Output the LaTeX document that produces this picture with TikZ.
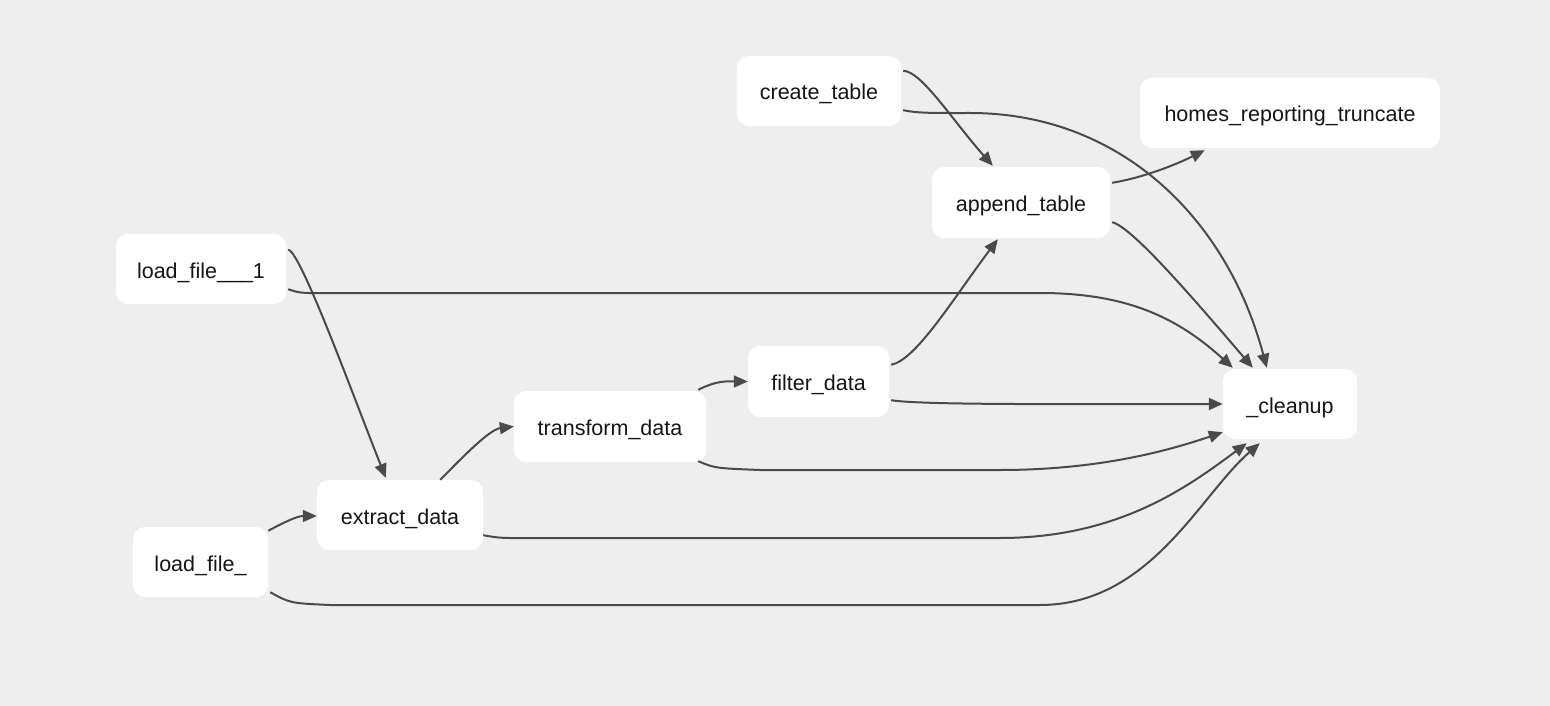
\documentclass[tikz,border=0pt]{standalone}
\usepackage{fontspec}
\setmainfont{Liberation Sans}
\usetikzlibrary{arrows.meta}
\definecolor{bg}{HTML}{EEEEEE}
\definecolor{edge}{HTML}{4A4A4A}
\definecolor{txt}{HTML}{151515}
\begin{document}
\begin{tikzpicture}[x=1pt,y=-1pt,
  task/.style={fill=white,draw=none,rounded corners=12pt,inner sep=0pt,text=txt,
    font=\fontsize{21.5}{26}\selectfont,minimum height=70pt,text height=23pt,text depth=5pt},
  conn/.style={draw=edge,line width=2pt,-{Triangle[length=14pt,width=12pt]}}]
\fill[bg] (0,0) rectangle (1550,706);
\useasboundingbox (0,0) rectangle (1550,706);
% nodes
\node[task,minimum width=164pt] (create) at (819,91) {create\_table};
\node[task,minimum width=300pt] (homes) at (1290,113) {homes\_reporting\_truncate};
\node[task,minimum width=178pt,minimum height=71pt] (append) at (1021,202.5) {append\_table};
\node[task,minimum width=170pt] (loadA) at (201,269) {load\_file\_\_\_1};
\node[task,minimum width=141pt,minimum height=71pt] (filter) at (818.5,381.5) {filter\_data};
\node[task,minimum width=134pt] (cleanup) at (1290,404) {\_cleanup};
\node[task,minimum width=192pt,minimum height=71pt] (transform) at (610,426.5) {transform\_data};
\node[task,minimum width=166pt] (extract) at (400,515) {extract\_data};
\node[task,minimum width=135pt] (loadB) at (200.5,562) {load\_file\_};
% edges
\draw[conn] ([shift={(2,15)}]create.north east) .. controls +(18,0) and +(-40,-45) .. ([shift={(61,-1)}]append.north west);
\draw[conn] ([shift={(2,-16)}]create.south east) .. controls +(15,3) and +(-40,0) .. (970,113)
  .. controls +(150,0) and +(-40,-150) .. ([shift={(44,-1)}]cleanup.north west);
\draw[conn] ([shift={(2,16)}]append.north east) .. controls +(30,-5) and +(-30,15) .. ([shift={(65,2)}]homes.south west);
\draw[conn] ([shift={(2,-16)}]append.south east) .. controls +(20,5) and +(-60,-70) .. ([shift={(30,-1)}]cleanup.north west);
\draw[conn] ([shift={(2,16)}]loadA.north east) .. controls +(12,0) and +(-30,-75) .. ([shift={(69,-2)}]extract.north west);
\draw[conn] ([shift={(2,-15)}]loadA.south east) .. controls +(12,4) .. (330,293) -- (1040,293)
  .. controls +(90,0) and +(-53,-48) .. ([shift={(10,-1)}]cleanup.north west);
\draw[conn] ([shift={(2,19)}]filter.north east) .. controls +(25,-5) and +(-45,60) .. ([shift={(66,1)}]append.south west);
\draw[conn] ([shift={(2,-17)}]filter.south east) .. controls +(30,5) and +(-150,0) .. (cleanup.west);
\draw[conn] ([shift={(-8,-1)}]transform.north east) .. controls +(20,-10) and +(-20,0) .. (filter.west);
\draw[conn] ([shift={(-8,-1)}]transform.south east) .. controls +(17,7) .. (760,470) -- (1000,470)
  .. controls +(100,0) and +(-53,18) .. ([shift={(0,-7)}]cleanup.south west);
\draw[conn] ([shift={(-43,0)}]extract.north east) .. controls +(20,-20) and +(-25,3) .. (transform.west);
\draw[conn] ([shift={(0,-15)}]extract.south east) .. controls +(17,3) .. (540,538) -- (1000,538)
  .. controls +(120,0) and +(-57,42) .. ([shift={(24,4)}]cleanup.south west);
\draw[conn] ([shift={(0,4)}]loadB.north east) .. controls +(15,-8) and +(-20,0) .. ([shift={(0,1)}]extract.west);
\draw[conn] ([shift={(2,-5)}]loadB.south east) .. controls +(20,11) .. (330,605) -- (1040,605)
  .. controls +(110,0) and +(-60,52) .. ([shift={(37,4)}]cleanup.south west);
\end{tikzpicture}
\end{document}
